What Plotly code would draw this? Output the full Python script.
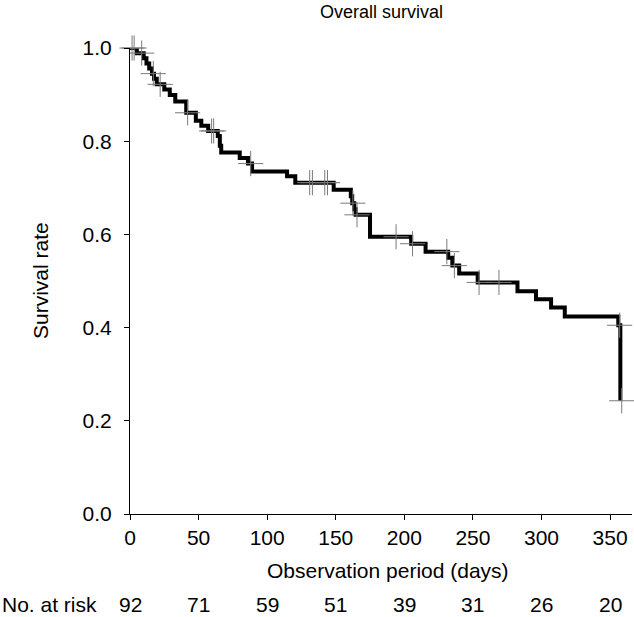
import numpy as np
import plotly.graph_objects as go

# Kaplan-Meier step data (days, survival)
event_days = [0, 5, 10, 12, 14, 16, 17.5, 19.5, 25, 29, 33, 41, 48, 52, 57, 64, 65.5, 66.5,
              80, 86, 89, 114.5, 120.5, 148.5, 161, 162, 163.5, 164.5, 175, 205, 215.5,
              232, 235, 240, 253.5, 282.5, 296, 307, 317, 356, 357.5]
survival = [1.0, 0.989, 0.978, 0.967, 0.956, 0.945, 0.934, 0.922, 0.911, 0.899, 0.885, 0.861,
            0.844, 0.833, 0.822, 0.811, 0.79, 0.776, 0.764, 0.752, 0.735, 0.725, 0.711, 0.696,
            0.682, 0.667, 0.654, 0.642, 0.595, 0.580, 0.563, 0.550, 0.533, 0.516, 0.497,
            0.478, 0.461, 0.443, 0.424, 0.405, 0.243]

# Censoring times (days)
censor_days = [1.5, 3, 8.5, 17, 22, 42, 59.5, 61, 88, 131, 133, 142, 144, 162.5, 165.5,
               194, 206, 231, 236.5, 254.5, 269, 357, 358.5]

# Number at risk table
risk_days = [0, 50, 100, 150, 200, 250, 300, 350]
at_risk = [92, 71, 59, 51, 39, 31, 26, 20]

x_ticks = [0, 50, 100, 150, 200, 250, 300, 350]
y_ticks = [0.0, 0.2, 0.4, 0.6, 0.8, 1.0]

ev = np.array(event_days)
sv = np.array(survival)
censor_surv = [float(sv[np.searchsorted(ev, t, side="right") - 1]) for t in censor_days]

FONT = "Liberation Sans, Arial, sans-serif"

fig = go.Figure()
fig.add_trace(go.Scatter(
    x=event_days, y=survival, mode="lines", line_shape="hv",
    line=dict(color="black", width=4), hoverinfo="skip", cliponaxis=False,
))
fig.add_trace(go.Scatter(
    x=censor_days, y=censor_surv, mode="markers",
    marker=dict(symbol="cross-thin", size=18, line=dict(color="#7a7a7a", width=1)),
    hoverinfo="skip", cliponaxis=False,
))

fig.update_xaxes(
    range=[0, 366], tickvals=x_ticks, showline=True, linecolor="black", linewidth=1,
    ticks="outside", ticklen=5, tickcolor="black", showgrid=False, zeroline=False,
    tickfont=dict(size=21, color="black", family=FONT), ticklabelstandoff=0,
)
fig.update_yaxes(
    range=[0, 1.0], tickvals=y_ticks, tickformat=".1f", showline=True, linecolor="black",
    linewidth=1, ticks="outside", ticklen=5, tickcolor="black", showgrid=False,
    zeroline=False, tickfont=dict(size=21, color="black", family=FONT), ticklabelstandoff=8,
)

annotations = [
    dict(text="Overall survival", xref="paper", yref="paper", x=0.5, y=1.0, yshift=36,
         showarrow=False, font=dict(size=18, color="black", family=FONT),
         xanchor="center", yanchor="middle"),
    dict(text="Survival rate", xref="paper", yref="paper", x=0, y=0.5, xshift=-90,
         textangle=-90, showarrow=False, font=dict(size=21, color="black", family=FONT),
         xanchor="center", yanchor="middle"),
    dict(text="Observation period (days)", xref="x", yref="paper", x=188, y=0, yshift=-56,
         showarrow=False, font=dict(size=21, color="black", family=FONT),
         xanchor="center", yanchor="middle"),
    dict(text="No. at risk", xref="paper", yref="paper", x=0, xshift=-130, y=0, yshift=-90,
         showarrow=False, font=dict(size=21, color="black", family=FONT),
         xanchor="left", yanchor="middle"),
]
for d, n in zip(risk_days, at_risk):
    annotations.append(dict(text=str(n), xref="x", yref="paper", x=d, y=0, yshift=-90,
                            showarrow=False, font=dict(size=21, color="black", family=FONT),
                            xanchor="center", yanchor="middle"))

fig.update_layout(
    width=634, height=617, margin=dict(l=130, r=2, t=48, b=103),
    plot_bgcolor="white", paper_bgcolor="white", showlegend=False,
    annotations=annotations, hovermode=False,
)

fig.write_html(
    "out.html",
    config={"displayModeBar": False},
    post_script="document.body.style.margin='0';document.body.style.overflow='hidden';",
)
